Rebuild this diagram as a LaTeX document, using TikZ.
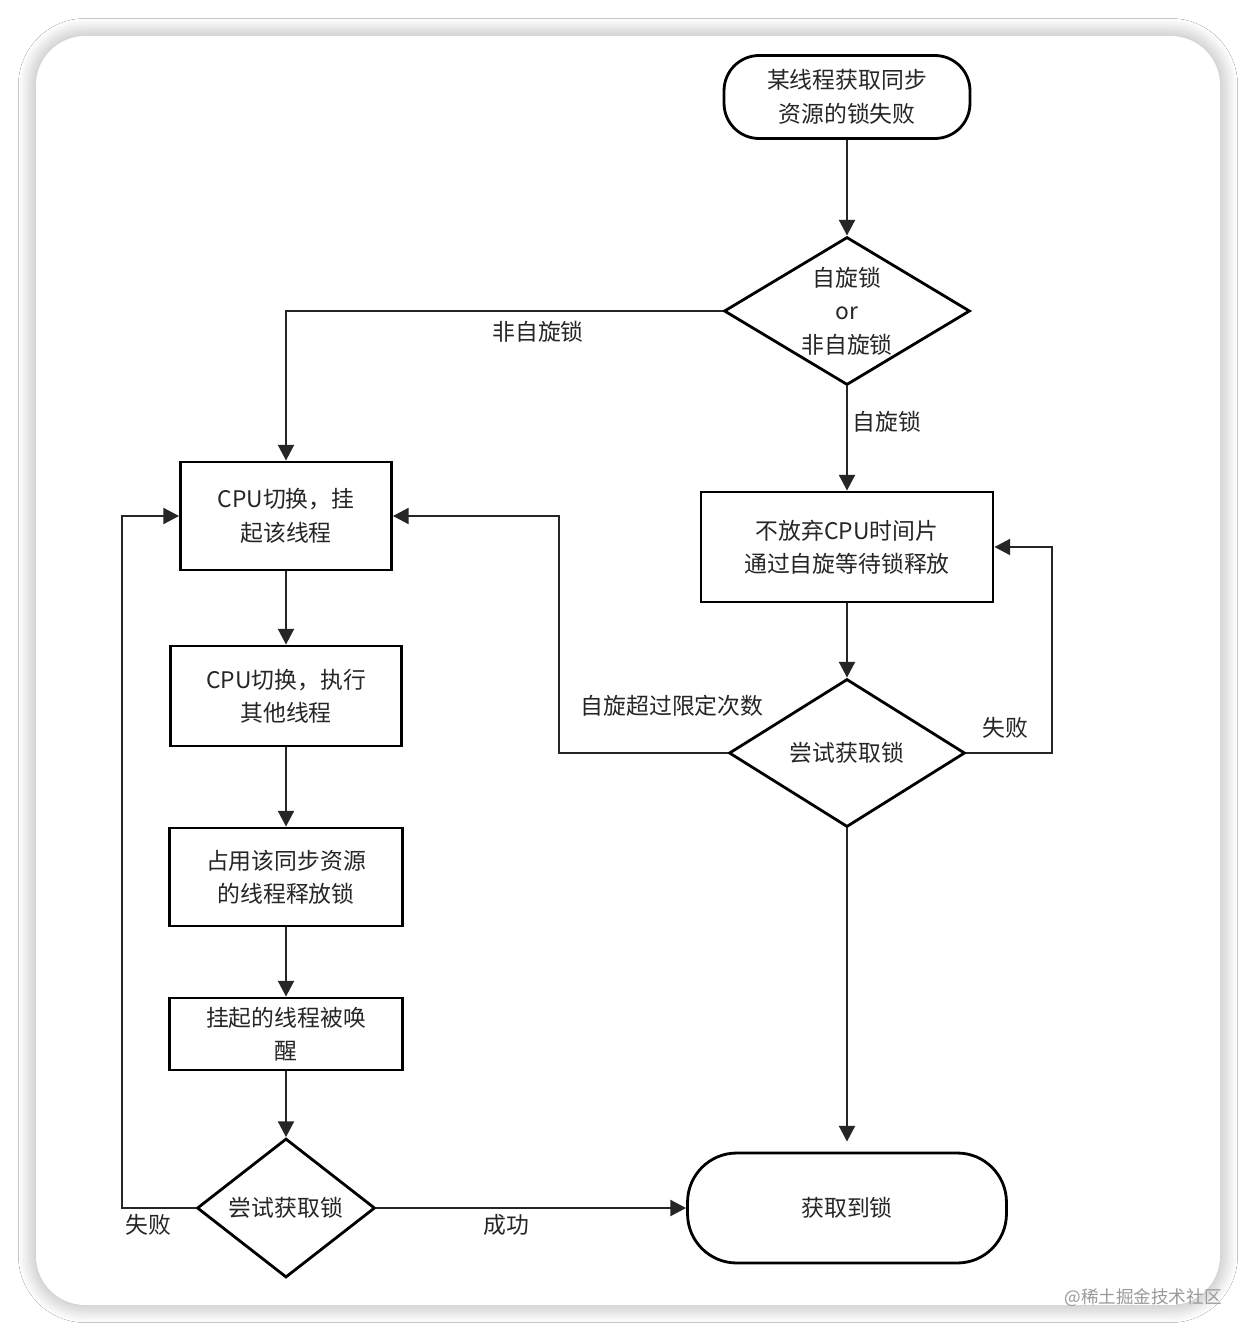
\documentclass[tikz,border=0pt]{standalone}
\usepackage{fontspec}
\setmainfont{Noto Sans CJK SC}
\usetikzlibrary{shapes.geometric,arrows.meta,shadows.blur}
\begin{document}
\begin{tikzpicture}[x=0.02cm,y=-0.02cm,
  every node/.style={font=\fontsize{13pt}{19pt}\selectfont,text=black!85},
  box/.style={draw,line width=1.6pt,align=center,inner sep=0},
  dia/.style={draw,line width=1.6pt,diamond,aspect=1.66,align=center,inner sep=0},
  ln/.style={line width=1.6pt,draw=black!85},
  ar/.style={ln,-{Triangle[length=9pt,width=9pt]}},
  lab/.style={font=\fontsize{13pt}{16pt}\selectfont}]
\useasboundingbox (0,0) rectangle (1256,1342);
\fill[white] (0,0) rectangle (1256,1342);
\fill[white,rounded corners=28pt,blur shadow={shadow blur steps=12,shadow xshift=0pt,shadow yshift=0pt,shadow blur radius=10pt,shadow opacity=35}] (36,36) rectangle (1220,1305);

\node[box,rounded corners=20pt,minimum width=4.92cm,minimum height=1.66cm] (s) at (847,97) {某线程获取同步\\资源的锁失败};
\node[dia,minimum width=4.92cm,minimum height=2.96cm] (d1) at (847,311) {自旋锁\\or\\非自旋锁};
\node[box,minimum width=4.22cm,minimum height=2.16cm] (b1) at (286,516) {CPU切换，挂\\起该线程};
\node[box,minimum width=5.84cm,minimum height=2.2cm] (b2) at (847,547) {不放弃CPU时间片\\通过自旋等待锁释放};
\node[box,minimum width=4.62cm,minimum height=2cm] (b3) at (286,696) {CPU切换，执行\\其他线程};
\node[dia,minimum width=4.72cm,minimum height=2.96cm] (d2) at (847,753) {尝试获取锁};
\node[box,minimum width=4.66cm,minimum height=1.96cm] (b4) at (286,877) {占用该同步资源\\的线程释放锁};
\node[box,minimum width=4.66cm,minimum height=1.44cm] (b5) at (286,1034) {挂起的线程被唤\\醒};
\node[dia,minimum width=3.56cm,minimum height=2.78cm] (d3) at (286,1208) {尝试获取锁};
\node[box,rounded corners=28pt,minimum width=6.38cm,minimum height=2.2cm] (e) at (847,1208) {获取到锁};

\coordinate (c1) at (286,311);
\coordinate (c2) at (1052,753); \coordinate (c3) at (1052,547);
\coordinate (c4) at (559,753); \coordinate (c5) at (559,516);
\coordinate (c6) at (122,1208); \coordinate (c7) at (122,516);

\draw[ar] (s) -- (d1);
\draw[ar] (d1.west) -- (c1) -- (b1.north);
\draw[ar] (d1) -- (b2);
\draw[ar] (b1) -- (b3);
\draw[ar] (b3) -- (b4);
\draw[ar] (b4) -- (b5);
\draw[ar] (b5) -- (d3);
\draw[ar] (b2) -- (d2);
\draw[ar] (d2.east) -- (c2) -- (c3) -- (b2.east);
\draw[ar] (d2.west) -- (c4) -- (c5) -- (b1.east);
\draw[ar] (d2.south) -- ([yshift=0.2cm]e.north);
\draw[ar] (d3.east) -- (e.west);
\draw[ar] (d3.west) -- (c6) -- (c7) -- (b1.west);

\node[lab] at (538,332) {非自旋锁};
\node[lab] at (887,422) {自旋锁};
\node[lab] at (1005,728) {失败};
\node[lab] at (672,706) {自旋超过限定次数};
\node[lab] at (506,1225) {成功};
\node[lab] at (148,1225) {失败};
\node[font=\fontsize{10pt}{12pt}\selectfont,text=black!40] at (1143,1298) {@稀土掘金技术社区};
\end{tikzpicture}
\end{document}
